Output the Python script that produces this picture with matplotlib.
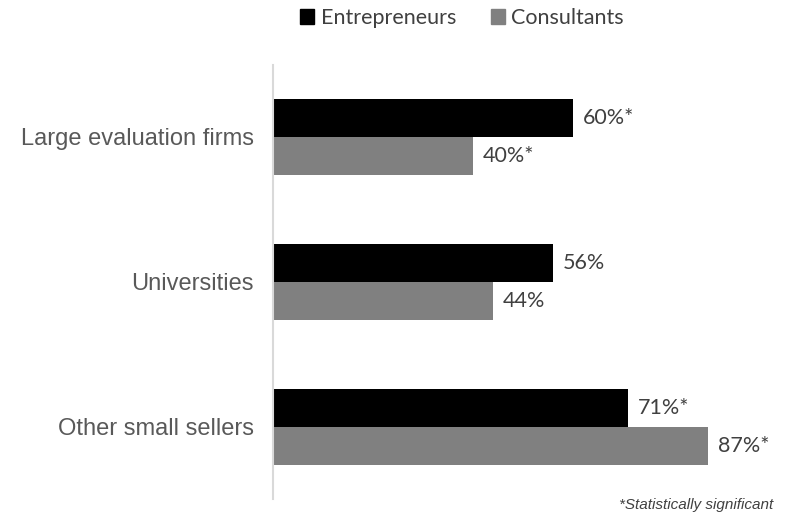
import numpy as np
import matplotlib.pyplot as plt
from matplotlib.patches import Patch

categories = ['Large evaluation firms', 'Universities', 'Other small sellers']
entrepreneurs = [60, 56, 71]
consultants = [40, 44, 87]
ent_labels = ['60%*', '56%', '71%*']
con_labels = ['40%*', '44%', '87%*']

black = '#000000'
grey = '#808080'
text_col = '#404040'

fig = plt.figure(figsize=(7.87, 5.16), dpi=100)
ax = fig.add_axes([0.3469, 0.032, 0.6353, 0.843])

y = np.arange(len(categories))
h = 0.262
ax.barh(y - h / 2, entrepreneurs, height=h, color=black, label='Entrepreneurs')
ax.barh(y + h / 2, consultants, height=h, color=grey, label='Consultants')

for yi, v, lab in zip(y, entrepreneurs, ent_labels):
    ax.text(v + 2, yi - h / 2, lab, va='center', ha='left', fontsize=15.5,
            family='Lato', color=text_col)
for yi, v, lab in zip(y, consultants, con_labels):
    ax.text(v + 2, yi + h / 2, lab, va='center', ha='left', fontsize=15.5,
            family='Lato', color=text_col)

ax.set_xlim(0, 100)
ax.set_ylim(2.5, -0.5)
ax.set_yticks(y)
ax.set_yticklabels(categories, fontsize=17, family='Liberation Sans', color='#595959')
ax.tick_params(axis='y', length=0, pad=14)
ax.set_xticks([])
for s in ['top', 'right', 'bottom']:
    ax.spines[s].set_visible(False)
ax.spines['left'].set_color('#d9d9d9')
ax.spines['left'].set_linewidth(1.5)

handles = [Patch(color=black), Patch(color=grey)]
fig.legend(handles, ['Entrepreneurs', 'Consultants'], loc='center',
           bbox_to_anchor=(0.587, 0.965), ncol=2, frameon=False,
           prop={'family': 'Lato', 'size': 15.5}, labelcolor=text_col,
           handlelength=0.65, handleheight=0.65, handletextpad=0.3, columnspacing=1.6)

fig.text(0.982, 0.021, '*Statistically significant', ha='right', va='center',
         fontsize=11, style='italic', family='Liberation Sans', color='#404040')

fig.savefig('out.png', dpi=100)
